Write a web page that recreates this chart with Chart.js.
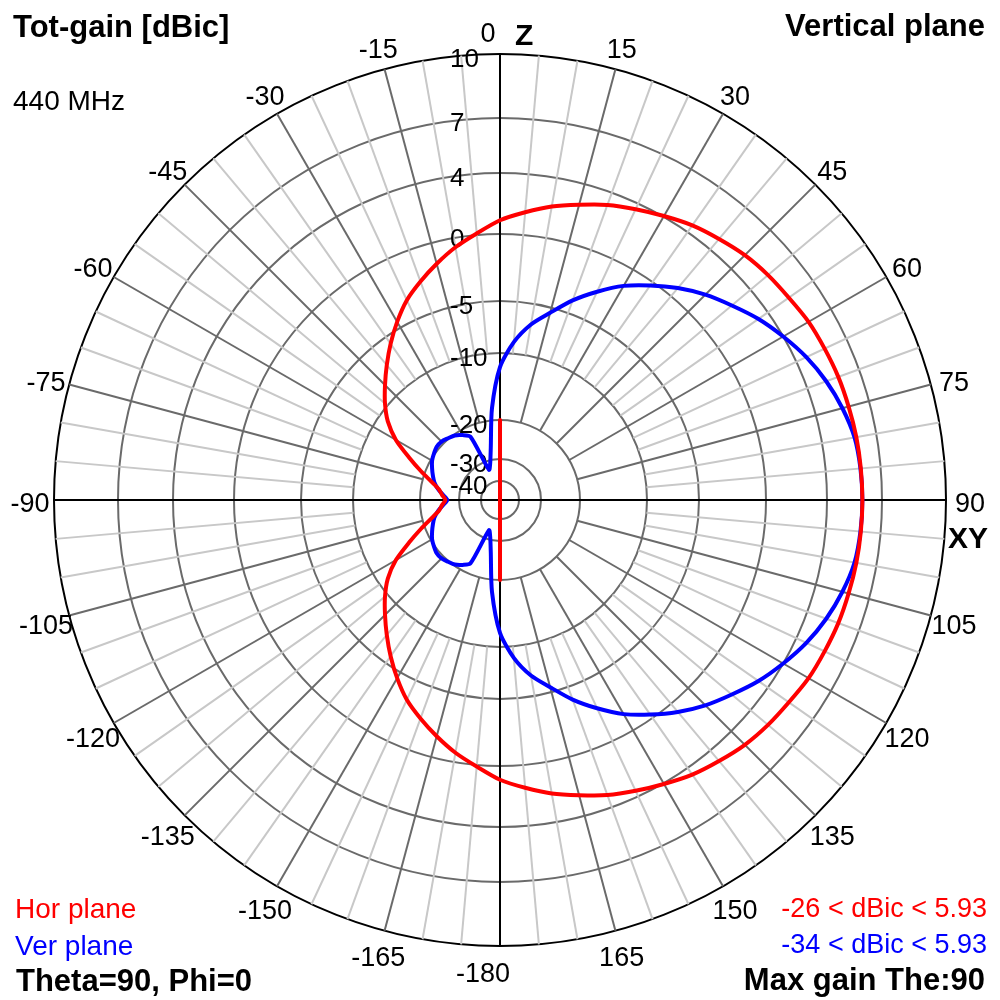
<!DOCTYPE html>
<html>
<head>
<meta charset="utf-8">
<title>Tot-gain [dBic] - Vertical plane</title>
<script src="https://cdn.jsdelivr.net/npm/chart.js@4.4.1/dist/chart.umd.min.js"></script>
<style>
  html, body { margin: 0; padding: 0; background: #fff; }
  #wrap { width: 1000px; height: 1000px; }
</style>
</head>
<body>
<div id="wrap"><canvas id="pattern" width="1000" height="1000"></canvas></div>
<script>
// angles in degrees, clockwise from Z (top), 5 deg step
const angleDeg = [0, 5, 10, 15, 20, 25, 30, 35, 40, 45, 50, 55, 60, 65, 70, 75, 80, 85,
  90, 95, 100, 105, 110, 115, 120, 125, 130, 135, 140, 145, 150, 155, 160, 165, 170, 175,
  -180, -175, -170, -165, -160, -155, -150, -145, -140, -135, -130, -125, -120, -115, -110, -105, -100, -95,
  -90, -85, -80, -75, -70, -65, -60, -55, -50, -45, -40, -35, -30, -25, -20, -15, -10, -5];

// gain in dBic
const horPlane = [0.9, 1.5, 2.1, 2.6, 3.15, 3.6, 4.05, 4.45, 4.75, 5.05, 5.25, 5.4, 5.6, 5.7, 5.8, 5.85, 5.9, 5.92,
  5.93, 5.92, 5.9, 5.85, 5.8, 5.7, 5.6, 5.4, 5.25, 5.05, 4.75, 4.45, 4.05, 3.6, 3.15, 2.6, 2.1, 1.5,
  0.9, 0.1, -0.7, -1.6, -2.5, -3.4, -4.5, -5.8, -7.2, -8.5, -9.7, -11.5, -14.0, -17.0, -19.4, -22.3, -24.6, -25.6,
  -26.5, -25.6, -24.6, -22.3, -19.4, -17.0, -14.0, -11.5, -9.7, -8.5, -7.2, -5.8, -4.5, -3.4, -2.5, -1.6, -0.7, 0.1];

const verPlane = [-12.1, -8.9, -7.0, -5.5, -4.0, -2.7, -1.4, -0.3, 0.7, 1.6, 2.4, 3.25, 4.0, 4.6, 5.1, 5.5, 5.8, 5.9,
  5.93, 5.9, 5.8, 5.5, 5.1, 4.6, 4.0, 3.25, 2.4, 1.6, 0.7, -0.3, -1.4, -2.7, -4.0, -5.5, -7.0, -8.9,
  -12.1, -18.2, -26.9, -31.4, -34, -22.6, -21.3, -20.3, -19.9, -19.6, -19.6, -19.9, -20.4, -21.3, -22.2, -23.1, -24.4, -25.9,
  -27, -25.9, -24.4, -23.1, -22.2, -21.3, -20.4, -19.9, -19.6, -19.6, -19.9, -20.3, -21.3, -22.6, -34, -31.4, -26.9, -18.2];

// the straight red segment along the Z axis: [angle, dBic]
const horStub = [[0, -20], [-180, -20]];

const gainTicks = [-40, -30, -20, -10, -5, 0, 4, 7, 10];

// ring radius as a fraction of the half-width (MMANA style compressed scale)
const ringFrac = [0.038, 0.082, 0.160, 0.294, 0.398, 0.532, 0.654, 0.764, 0.892];

const FONT = "'Liberation Sans', Arial, sans-serif";

class GainScale extends Chart.RadialLinearScale {
  getDistanceFromCenterForValue(value) {
    if (value === null || value === undefined || isNaN(value)) return NaN;
    const t = gainTicks, f = ringFrac;
    let frac;
    if (value <= t[0]) {
      frac = Math.max(0, f[0] * (value - t[0] + 10) / 10);
    } else if (value >= t[t.length - 1]) {
      frac = f[f.length - 1];
    } else {
      let i = 0;
      while (value > t[i + 1]) i++;
      frac = f[i] + (f[i + 1] - f[i]) * (value - t[i]) / (t[i + 1] - t[i]);
    }
    return this.drawingArea * frac;
  }
}
GainScale.id = 'gainRadial';
Chart.register(GainScale);

const stubData = angleDeg.map(a => {
  const hit = horStub.find(p => p[0] === a);
  return hit ? hit[1] : null;
});

// spokes: dark every 15 deg, light every 5 deg, black axes; ring labels
const gridPlugin = {
  id: 'mmanaGrid',
  beforeDatasetsDraw(chart) {
    const s = chart.scales.r;
    const ctx = chart.ctx;
    const outer = s.getDistanceFromCenterForValue(10);
    const from15 = s.getDistanceFromCenterForValue(-20);
    const from5 = s.getDistanceFromCenterForValue(-10);
    ctx.save();
    ctx.lineWidth = 2;
    angleDeg.forEach((a, i) => {
      if (a % 90 === 0) return;
      const major = a % 15 === 0;
      const p1 = s.getPointPosition(i, major ? from15 : from5);
      const p2 = s.getPointPosition(i, outer);
      ctx.strokeStyle = major ? '#6a6a6a' : '#c8c8c8';
      ctx.beginPath();
      ctx.moveTo(p1.x, p1.y);
      ctx.lineTo(p2.x, p2.y);
      ctx.stroke();
    });
    ctx.strokeStyle = '#000';
    [[0, -180], [90, -90]].forEach(([a, b]) => {
      const p1 = s.getPointPosition(angleDeg.indexOf(a), outer);
      const p2 = s.getPointPosition(angleDeg.indexOf(b), outer);
      ctx.beginPath();
      ctx.moveTo(p1.x, p1.y);
      ctx.lineTo(p2.x, p2.y);
      ctx.stroke();
    });

    // gain labels along the Z axis
    ctx.fillStyle = '#000';
    ctx.font = '26px ' + FONT;
    ctx.textAlign = 'left';
    ctx.textBaseline = 'middle';
    gainTicks.forEach(v => {
      const d = s.getDistanceFromCenterForValue(v);
      ctx.fillText(String(v), s.xCenter - 50, s.yCenter - d + 6);
    });
    ctx.restore();
  }
};

const textPlugin = {
  id: 'mmanaText',
  afterDraw(chart) {
    const s = chart.scales.r;
    const ctx = chart.ctx;
    ctx.save();

    // angle labels every 15 deg
    ctx.fillStyle = '#000';
    ctx.font = '27px ' + FONT;
    ctx.textAlign = 'center';
    ctx.textBaseline = 'middle';
    angleDeg.forEach((a, i) => {
      if (a % 15 !== 0) return;
      const p = s.getPointPosition(i, s.drawingArea * 0.94);
      let dx = 0;
      if (a === 0) dx = -12;
      if (a === -180) dx = -17;
      ctx.fillText(String(a), p.x + dx, p.y + 5);
    });

    ctx.textBaseline = 'alphabetic';
    ctx.font = 'bold 30px ' + FONT;
    ctx.textAlign = 'left';
    ctx.fillText('Z', 515, 45);
    ctx.fillText('XY', 948, 548);

    ctx.font = 'bold 31px ' + FONT;
    ctx.fillText('Tot-gain [dBic]', 13, 37);
    ctx.fillText('Theta=90, Phi=0', 16, 991);
    ctx.textAlign = 'right';
    ctx.fillText('Vertical plane', 985, 36);
    ctx.fillText('Max gain The:90', 985, 990);

    ctx.font = '28px ' + FONT;
    ctx.textAlign = 'left';
    ctx.fillText('440 MHz', 13, 110);
    ctx.fillStyle = '#ff0000';
    ctx.fillText('Hor plane', 15, 918);
    ctx.fillStyle = '#0000ff';
    ctx.fillText('Ver plane', 15, 955);

    ctx.font = '27px ' + FONT;
    ctx.textAlign = 'right';
    ctx.fillStyle = '#ff0000';
    ctx.fillText('-26 < dBic < 5.93', 987, 917);
    ctx.fillStyle = '#0000ff';
    ctx.fillText('-34 < dBic < 5.93', 987, 953);
    ctx.restore();
  }
};

new Chart(document.getElementById('pattern'), {
  type: 'radar',
  data: {
    labels: angleDeg,
    datasets: [
      { label: 'Hor plane', data: horPlane, borderColor: '#ff0000', fill: false, tension: 0.25 },
      { label: 'Hor plane axis', data: stubData, borderColor: '#ff0000', fill: false, spanGaps: true, tension: 0 },
      { label: 'Ver plane', data: verPlane, borderColor: '#0000ff', fill: false, tension: 0.25 }
    ]
  },
  options: {
    responsive: false,
    animation: false,
    events: [],
    layout: { padding: 0 },
    elements: {
      line: { borderWidth: 4, borderJoinStyle: 'round', borderCapStyle: 'round' },
      point: { radius: 0, hoverRadius: 0 }
    },
    plugins: {
      legend: { display: false },
      tooltip: { enabled: false }
    },
    scales: {
      r: {
        type: 'gainRadial',
        min: -40,
        max: 10,
        startAngle: 0,
        afterBuildTicks: scale => { scale.ticks = gainTicks.map(v => ({ value: v })); },
        ticks: { display: false },
        pointLabels: { display: false },
        angleLines: { display: false },
        grid: {
          circular: true,
          lineWidth: 2,
          color: c => (c.tick && c.tick.value === 10 ? '#000000' : '#6a6a6a')
        }
      }
    }
  },
  plugins: [gridPlugin, textPlugin]
});
</script>
</body>
</html>
